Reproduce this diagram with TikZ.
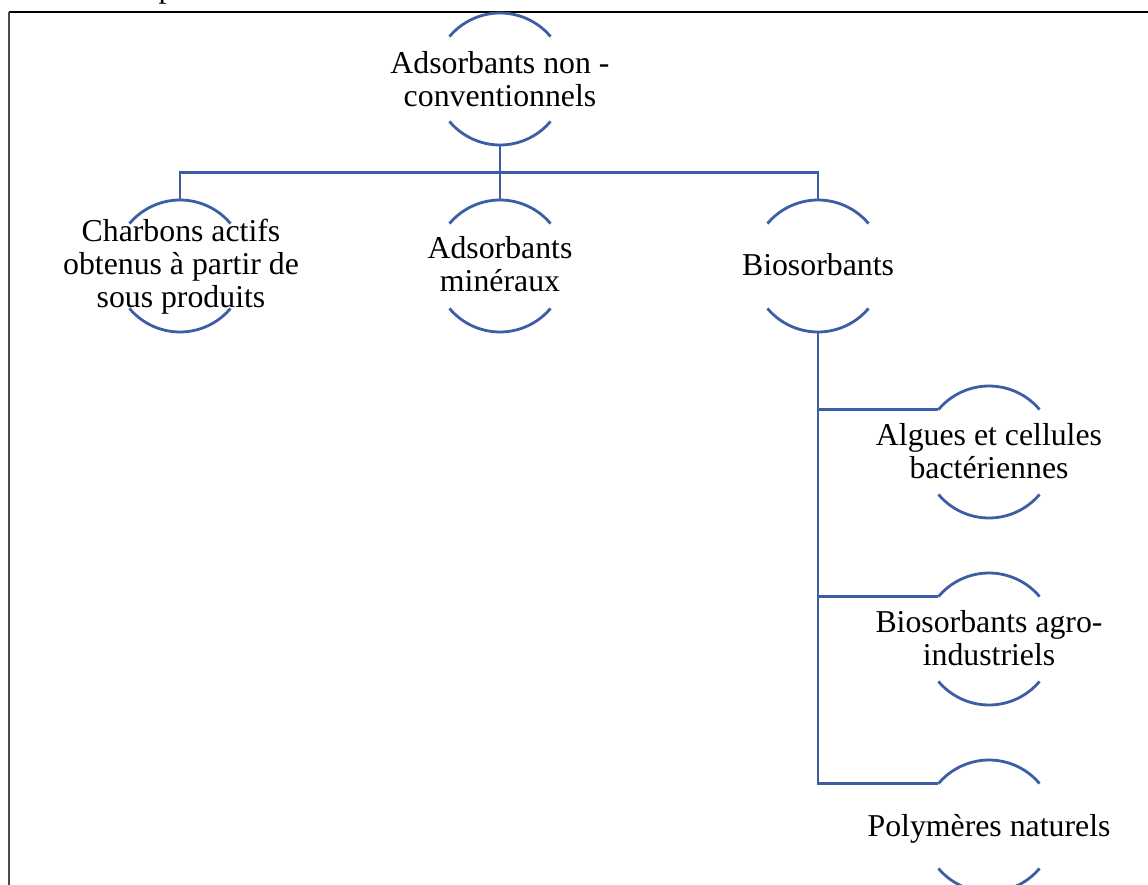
\documentclass[tikz,border=0pt]{standalone}
\usepackage{fontspec}
\setmainfont{Liberation Serif}
\usetikzlibrary{calc}
\definecolor{lineblue}{RGB}{59,94,165}
\definecolor{framegray}{RGB}{75,75,75}
\tikzset{
  ring/.style={circle, draw=none, minimum size=132pt, inner sep=0pt, outer sep=0pt},
  lbl/.style={align=center, inner sep=0pt, font=\fontsize{31.8}{33}\selectfont},
  conn/.style={draw=lineblue, line width=2.8pt},
}
\newcommand{\ringarcs}[1]{%
  \draw[conn] (#1.40) arc[start angle=40, end angle=140, radius=66pt];
  \draw[conn] (#1.220) arc[start angle=220, end angle=320, radius=66pt];
}
\begin{document}
\begin{tikzpicture}[x=1pt,y=-1pt]
\useasboundingbox (0,0) rectangle (1148,885);
\begin{scope}
\clip (0,0) rectangle (1148,885);
% frame
\draw[black, line width=2pt] (9,12) -- (1160,12);
\draw[framegray, line width=2.2pt] (9,12) -- (9,900);
% fragment of text above the frame
\node[anchor=base west, inner sep=0pt, font=\fontsize{31.8}{33}\selectfont] (frag) at (158.5,-2.5) {p};
% rings
\node[ring] (top) at (500,79) {};
\node[ring] (charb) at (180,266) {};
\node[ring] (mine) at (500,266) {};
\node[ring] (bio) at (818,266) {};
\node[ring] (alg) at (989,452) {};
\node[ring] (agro) at (989,639) {};
\node[ring] (poly) at (989,826) {};
\ringarcs{top}
\ringarcs{charb}
\ringarcs{mine}
\ringarcs{bio}
\ringarcs{alg}
\ringarcs{agro}
\ringarcs{poly}
% connectors
\coordinate (j) at ($(top.south)!0.5!(mine.north)$);
\draw[conn] (top.south) -- (mine.north);
\draw[conn] (charb.north) |- (j) -| (bio.north);
\draw[conn] (bio.south) |- (alg.140);
\draw[conn] (bio.south) |- (agro.140);
\draw[conn] (bio.south) |- (poly.140);
% labels
\node[lbl] (ttop) at (500,79) {Adsorbants non -\\conventionnels};
\node[lbl] (tcharb) at (181,267) {Charbons actifs\\obtenus à partir de\\sous produits};
\node[lbl] (tmine) at (500,264) {Adsorbants\\minéraux};
\node[lbl] (tbio) at (818,265) {Biosorbants};
\node[lbl] (talg) at (989,451) {Algues et cellules\\bactériennes};
\node[lbl] (tagro) at (989,638) {Biosorbants agro-\\industriels};
\node[lbl] (tpoly) at (989,829) {Polymères naturels};
\end{scope}
\end{tikzpicture}
\end{document}
